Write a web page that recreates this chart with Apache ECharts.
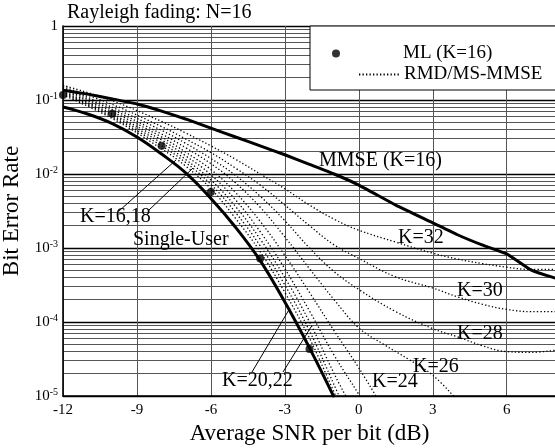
<!DOCTYPE html>
<html><head><meta charset="utf-8">
<script src="https://cdn.jsdelivr.net/npm/echarts@6/dist/echarts.min.js"></script>
<style>html,body{margin:0;padding:0;background:#fff}#c{width:555px;height:448px}</style>
</head><body><div id="c"></div>
<script>
// ---- data ----
const snrTicks = [-12, -9, -6, -3, 0, 3, 6];
const titleText = 'Rayleigh fading: N=16';
const xName = 'Average SNR per bit (dB)';
const yName = 'Bit Error Rate';

const mlSnr = [-12, -10, -8, -6, -4, -2];
const mlBer = [0.117, 0.065, 0.024, 0.0057, 7.2e-4, 4.3e-5];

const suSnr = [-12, -11, -10, -9, -8, -7, -6, -5, -4, -3, -2, -1];
const suBer = [0.0804, 0.0646, 0.0479, 0.0316, 0.0186, 0.0102, 0.00468, 0.00191, 6.76e-4, 1.86e-4, 4.47e-5, 9.55e-6];

const mmseSnr = [-12, -11, -10, -9, -8, -7, -6, -5, -4, -3, -2, -1, 0, 1.5, 3, 4, 5, 6, 7, 8];
const mmseBer = [0.136, 0.120, 0.1035, 0.0883, 0.0708, 0.0550, 0.0417, 0.0316, 0.0240, 0.0182, 0.0135, 0.0100, 0.00708, 0.00380, 0.00219, 0.00151, 0.00110, 8.32e-4, 5.01e-4, 3.89e-4];

const k16Snr = [-12, -10, -8, -7, -6, -5, -4, -3, -2, -1, -0.9];
const k16Ber = [0.117, 0.0562, 0.0219, 0.0126, 0.00631, 0.00251, 8.91e-4, 2.51e-4, 6.03e-5, 1.12e-5, 9.33e-6];
const k18Snr = [-12, -10, -8, -7, -6, -5, -4, -3, -2, -1, -0.7];
const k18Ber = [0.122, 0.0589, 0.0240, 0.0141, 0.00724, 0.00302, 0.00107, 3.16e-4, 7.59e-5, 1.41e-5, 8.32e-6];
const k20Snr = [-12, -10, -8, -7, -6, -5, -4, -3, -2, -1, -0.4];
const k20Ber = [0.126, 0.0617, 0.0263, 0.0155, 0.00832, 0.00363, 0.00132, 3.98e-4, 1.0e-4, 2.0e-5, 8.3e-6];
const k22Snr = [-12, -10, -8, -7, -6, -5, -4, -3, -2, -1, 0, 0.2];
const k22Ber = [0.130, 0.0646, 0.0288, 0.0174, 0.00977, 0.00447, 0.00166, 5.25e-4, 1.41e-4, 3.55e-5, 1.05e-5, 7.94e-6];
const k24Snr = [-12, -10, -8, -7, -6, -5, -4, -3, -2, -1, 0, 0.8];
const k24Ber = [0.135, 0.0692, 0.0316, 0.0195, 0.0115, 0.00562, 0.00229, 7.94e-4, 2.51e-4, 7.59e-5, 2.40e-5, 8.71e-6];
const k26Snr = [-12, -10, -8, -7, -6, -5, -4, -3, -2, -1, 0, 1, 2, 3, 4];
const k26Ber = [0.140, 0.0741, 0.0347, 0.0224, 0.0138, 0.00759, 0.00355, 0.00141, 5.25e-4, 2.0e-4, 8.32e-5, 5.01e-5, 3.16e-5, 1.91e-5, 8.71e-6];
const kHiSnr = [-12, -10, -8, -7, -6, -5, -4, -3, -2, -1, 0, 1.5, 3, 4, 5, 6, 7, 8];
const k28Ber = [0.145, 0.0794, 0.0389, 0.0257, 0.0162, 0.00955, 0.00501, 0.00234, 0.00100, 4.79e-4, 2.75e-4, 1.38e-4, 8.13e-5, 6.31e-5, 4.79e-5, 3.98e-5, 3.89e-5, 4.17e-5];
const k30Ber = [0.151, 0.0871, 0.0437, 0.0295, 0.0195, 0.0120, 0.00708, 0.00380, 0.00200, 0.00110, 7.24e-4, 4.07e-4, 2.88e-4, 2.19e-4, 1.74e-4, 1.48e-4, 1.38e-4, 1.38e-4];
const k32Ber = [0.158, 0.0977, 0.0513, 0.0355, 0.0240, 0.0158, 0.0100, 0.00631, 0.00380, 0.00245, 0.00174, 0.00120, 8.51e-4, 7.08e-4, 6.17e-4, 5.50e-4, 5.13e-4, 5.13e-4];

const legendNames = ['ML (K=16)', 'RMD/MS-MMSE'];
const curveLabels = ['MMSE (K=16)', 'K=32', 'K=30', 'K=28', 'K=26', 'K=24', 'K=20,22', 'K=16,18', 'Single-User'];

// ---- chart ----
const F = "'Liberation Serif', 'DejaVu Serif', serif";
const pairs = (xs, ys) => xs.map((x, i) => [x, ys[i]]);
const dottedCurves = [
  pairs(k16Snr, k16Ber), pairs(k18Snr, k18Ber), pairs(k20Snr, k20Ber), pairs(k22Snr, k22Ber),
  pairs(k24Snr, k24Ber), pairs(k26Snr, k26Ber), pairs(kHiSnr, k28Ber), pairs(kHiSnr, k30Ber), pairs(kHiSnr, k32Ber)
];

const series = [];
dottedCurves.forEach(d => series.push({
  type: 'line', name: legendNames[1], data: d, symbol: 'none', showSymbol: false,
  smooth: 0.4, silent: true, z: 3,
  itemStyle: { color: '#000' },
  lineStyle: { color: '#000', width: 1.3, type: [1.3, 2.2] }
}));
series.push({
  type: 'line', name: 'Single-User', data: pairs(suSnr, suBer), symbol: 'none', smooth: 0.4,
  silent: true, z: 4, itemStyle: { color: '#000' }, lineStyle: { color: '#000', width: 3 }
});
series.push({
  type: 'line', name: 'MMSE', data: pairs(mmseSnr, mmseBer), symbol: 'none', smooth: 0.15,
  silent: true, z: 4, itemStyle: { color: '#000' }, lineStyle: { color: '#000', width: 3 }
});
series.push({
  type: 'scatter', name: legendNames[0], data: pairs(mlSnr, mlBer), symbol: 'circle', symbolSize: 8,
  silent: true, z: 5, itemStyle: { color: '#000' }
});

const txt = (s, x, y) => ({ type: 'text', x: x, y: y, z: 10, silent: true,
  style: { text: s, fill: '#000', fontSize: 20, fontFamily: F, verticalAlign: 'middle', align: 'left' } });
const ln = (x1, y1, x2, y2) => ({ type: 'line', z: 10, silent: true,
  shape: { x1: x1, y1: y1, x2: x2, y2: y2 }, style: { stroke: '#000', lineWidth: 1 } });

const chart = echarts.init(document.getElementById('c'), null, { renderer: 'canvas' });
chart.setOption({
  animation: false,
  backgroundColor: '#fff',
  title: { text: titleText, left: 67, top: 3, padding: 0,
    textStyle: { fontFamily: F, fontSize: 20, fontWeight: 'normal', color: '#000' } },
  grid: { left: 63, right: -1, top: 26, bottom: 52, containLabel: false, outerBoundsMode: 'none' },
  xAxis: {
    type: 'value', min: -12, max: 8, interval: 3,
    axisLine: { show: true, onZero: false, lineStyle: { color: '#000', width: 1.6 } },
    axisTick: { show: false },
    axisLabel: { color: '#000', fontFamily: F, fontSize: 15, margin: 7,
      formatter: v => snrTicks.includes(v) ? String(v) : '' },
    splitLine: { show: true, lineStyle: { color: '#555', width: 1 } },
    name: xName, nameLocation: 'middle', nameGap: 26,
    nameTextStyle: { color: '#000', fontFamily: F, fontSize: 23 }
  },
  yAxis: {
    type: 'log', logBase: 10, min: 1e-5, max: 1,
    axisLine: { show: true, onZero: false, lineStyle: { color: '#000', width: 1.6 } },
    axisTick: { show: false },
    axisLabel: { color: '#000', margin: 5,
      formatter: v => { const e = Math.round(Math.log10(v)); return e === 0 ? '{b|1}' : '{b|10}{s|' + e + '}'; },
      rich: { b: { fontSize: 15, fontFamily: F, color: '#000' },
              s: { fontSize: 10, fontFamily: F, color: '#000', padding: [0, 0, 8, 0] } } },
    splitLine: { show: true, lineStyle: { color: '#000', width: 1.3 } },
    minorTick: { show: false, splitNumber: 9 },
    minorSplitLine: { show: true, lineStyle: { color: '#555', width: 1 } },
    name: yName, nameLocation: 'middle', nameGap: 34,
    nameTextStyle: { color: '#000', fontFamily: F, fontSize: 23 }
  },
  legend: [
    { data: [legendNames[1]], left: 310, top: 26, orient: 'vertical', selectedMode: false,
      padding: [39, 45, 6, 48], itemWidth: 40, itemHeight: 10, z: 6,
      itemStyle: { opacity: 0 },
      backgroundColor: '#fff', borderColor: '#000', borderWidth: 1, borderRadius: 0,
      textStyle: { color: '#000', fontFamily: F, fontSize: 19 } },
    { data: [legendNames[0]], left: 327, top: 39, orient: 'vertical', selectedMode: false,
      padding: 5, itemWidth: 8, itemHeight: 8, z: 7,
      textStyle: { color: '#000', fontFamily: F, fontSize: 19, padding: [0, 0, 0, 58] } }
  ],
  graphic: [
    txt(curveLabels[0], 319, 161),
    txt(curveLabels[1], 398, 238),
    txt(curveLabels[2], 457, 291),
    txt(curveLabels[3], 457, 334),
    txt(curveLabels[4], 413, 367),
    txt(curveLabels[5], 372, 382),
    txt(curveLabels[6], 222, 381),
    txt(curveLabels[7], 80, 217),
    txt(curveLabels[8], 133, 240),
    ln(119, 211, 176, 160), ln(148, 211, 193, 168),
    ln(252, 372, 290, 308), ln(283, 372, 311, 327)
  ],
  series: series
});
</script></body></html>
